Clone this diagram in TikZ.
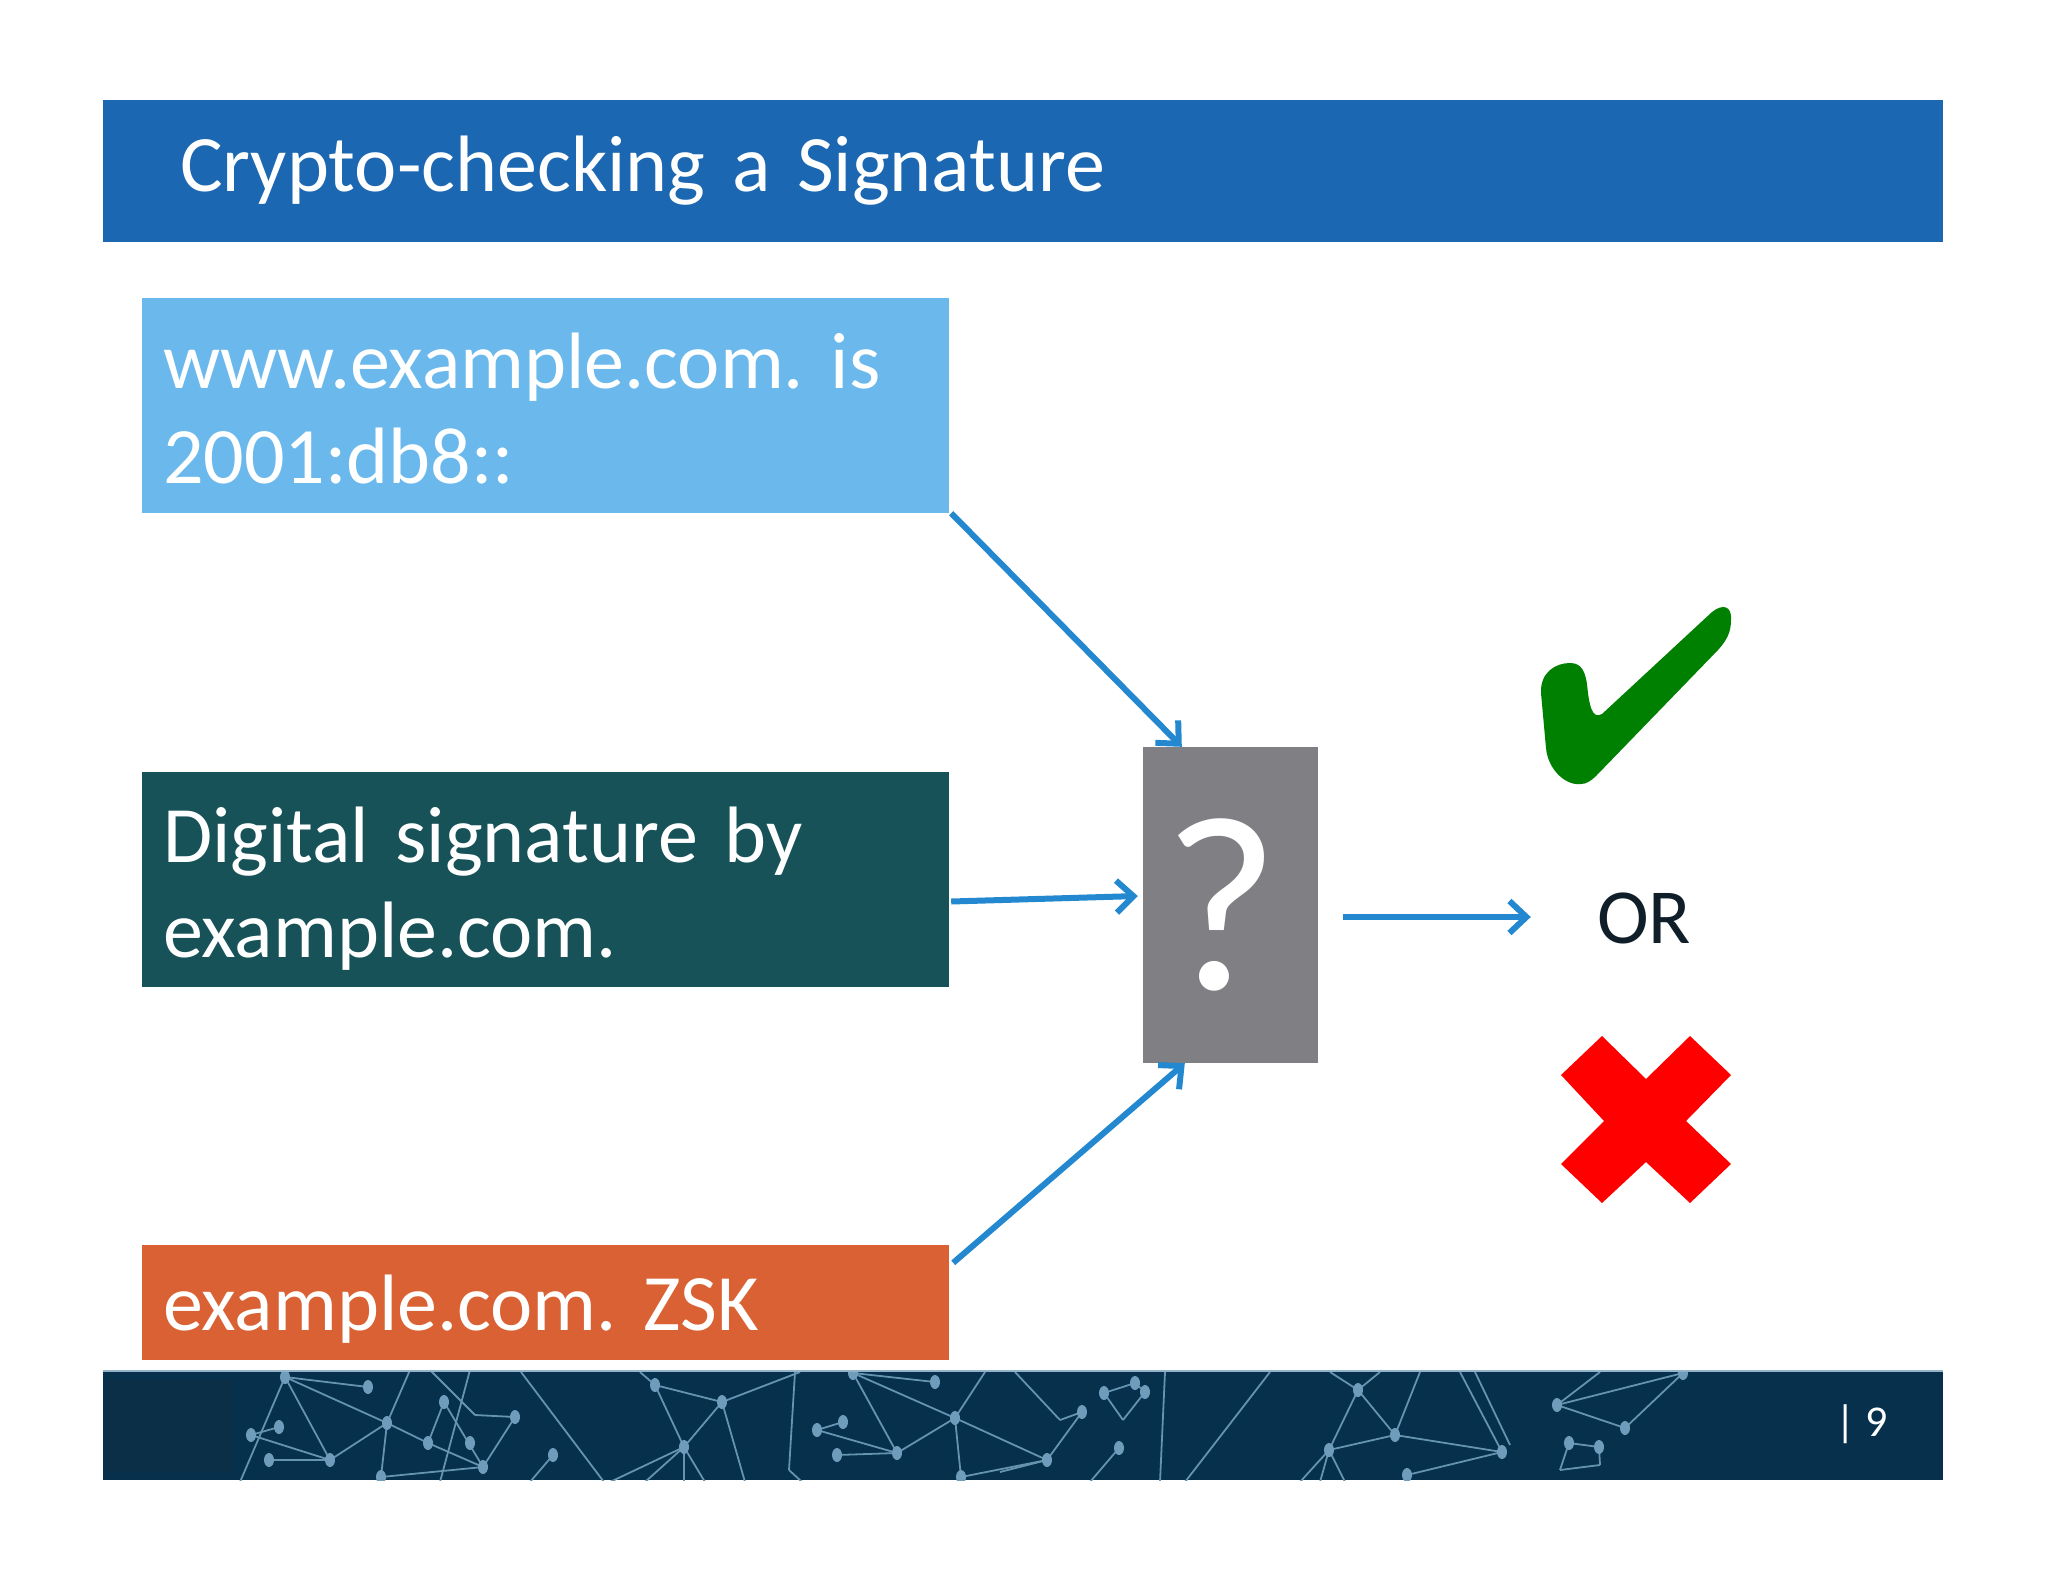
\documentclass[tikz,border=0pt]{standalone}
\usepackage{fontspec}
\setmainfont{Carlito}
\usetikzlibrary{arrows.meta}
\definecolor{titleblue}{HTML}{1B67B2}
\definecolor{lightbox}{HTML}{6BB9EC}
\definecolor{tealbox}{HTML}{175258}
\definecolor{orangebox}{HTML}{DA6133}
\definecolor{checkgray}{HTML}{807F83}
\definecolor{arrowblue}{HTML}{2388CF}
\definecolor{okgreen}{HTML}{008000}
\definecolor{badred}{HTML}{FF0000}
\definecolor{footblue}{HTML}{06304B}
\definecolor{footdark}{HTML}{0B2F47}
\definecolor{netline}{HTML}{6593B0}
\definecolor{netdot}{HTML}{6E9CBA}
\definecolor{ortext}{HTML}{0F1E28}
\frenchspacing
\begin{document}
\begin{tikzpicture}[x=1pt,y=-1pt,
titlebar/.style={fill=titleblue,minimum width=1840pt,minimum height=142pt,text width=1686pt,inner xsep=77pt,inner ysep=0pt,align=left,text=white,font=\fontsize{80}{95}\selectfont},
box/.style={minimum width=807pt,text width=765pt,inner xsep=21pt,inner ysep=0pt,align=left,text=white,text height=56pt,font=\fontsize{80}{95}\selectfont},
twoline/.style={box,minimum height=215pt,text depth=91pt},
oneline/.style={box,minimum height=115pt,text depth=1pt},
checker/.style={fill=checkgray,minimum width=175pt,minimum height=316pt,inner sep=0pt,text=white,font=\fontsize{250}{250}\selectfont},
conn/.style={draw=arrowblue,line width=6pt,-{Straight Barb[length=17pt,width=32pt,line width=6pt]}},
footer/.style={fill=footblue,minimum width=1840pt,minimum height=109pt,inner sep=0pt},
net/.style={draw=netline,line width=1.8pt},
pagenum/.style={text=white,inner sep=0pt,font=\fontsize{44}{44}\selectfont}
]
\fill[white] (0,0) rectangle (2048,1582);
\useasboundingbox (0,0) rectangle (2048,1582);
\node[titlebar] (title) at (1023,171) {Crypto-checking a Signature};
\node[twoline,fill=lightbox] (rec) at (545.5,405.5) {www.example.com. is\\2001:db8::};
\node[twoline,fill=tealbox] (sig) at (545.5,879.5) {Digital signature by\\example.com.};
\node[oneline,fill=orangebox] (zsk) at (545.5,1302.5) {example.com. ZSK};
\node[checker] (q) at (1230.5,905) {\kern-18pt?};
\node[text=ortext,inner sep=0pt,font=\fontsize{78}{78}\selectfont] (or) at (1644,918) {OR};
\draw[conn] ([xshift=2pt]rec.south east) -- ([xshift=39pt]q.north west);
\draw[conn] ([xshift=2pt,yshift=-22pt]sig.east) -- ([xshift=-5pt,yshift=9pt]q.west);
\draw[conn] ([xshift=4pt,yshift=-18pt]zsk.north east) -- ([xshift=42pt]q.south west);
\draw[conn] ([xshift=25pt,yshift=-12pt]q.east) -- ([xshift=-66pt,yshift=1pt]or.west);
\fill[okgreen] (1581,784) .. controls (1566,786) and (1548,770) .. (1546,748)
  -- (1541,693) .. controls (1540,672) and (1556,663) .. (1570,663)
  .. controls (1582,663) and (1585,672) .. (1587,684)
  .. controls (1589,705) and (1592,720) .. (1602,714)
  -- (1712,612) .. controls (1722,604) and (1732,605) .. (1731,620)
  .. controls (1731,632) and (1727,640) .. (1718,650)
  -- (1596,776) .. controls (1591,781) and (1586,784) .. cycle;
\fill[badred] (1561,1075) -- (1602,1036) -- (1646,1079) -- (1690,1036) -- (1731,1075)
  -- (1686,1121) -- (1731,1164) -- (1690,1203) -- (1646,1162) -- (1602,1203)
  -- (1561,1164) -- (1604,1121) -- cycle;
\node[footer] (foot) at (1023,1425.5) {};
\begin{scope}
\clip (foot.south west) rectangle (foot.north east);
\fill[footdark] (107,1380) rectangle (232,1472);
\foreach \xa/\ya/\xb/\yb in {285/1377/368/1387,285/1377/387/1423,285/1377/240/1482,285/1377/330/1460,
  251/1435/279/1427,251/1435/330/1460,269/1460/330/1460,330/1460/387/1423,387/1423/428/1443,
  428/1443/483/1467,387/1423/381/1477,444/1402/428/1443,444/1402/483/1467,381/1477/483/1467,
  483/1467/515/1417,515/1417/475/1415,475/1415/430/1370,410/1370/387/1423,470/1370/440/1482,
  521/1372/604/1482,553/1455/530/1482,655/1385/722/1402,655/1385/684/1447,722/1402/684/1447,
  684/1447/610/1482,684/1447/645/1482,684/1447/684/1482,684/1447/705/1482,722/1402/745/1482,
  722/1402/800/1372,655/1385/640/1372,795/1372/789/1470,789/1470/802/1482,853/1373/935/1382,
  853/1373/955/1418,853/1373/897/1453,843/1422/817/1430,817/1430/897/1453,837/1455/897/1453,
  955/1418/897/1453,955/1418/1047/1460,955/1418/961/1477,961/1477/1047/1460,955/1418/985/1372,
  1047/1460/1082/1412,1082/1412/1060/1420,1060/1420/1015/1372,1047/1460/1000/1472,
  1104/1393/1135/1383,1135/1383/1145/1392,1145/1392/1123/1420,1123/1420/1104/1393,
  1119/1448/1090/1482,1165/1372/1160/1482,1270/1372/1185/1482,1330/1372/1358/1390,
  1380/1372/1358/1390,1358/1390/1329/1450,1358/1390/1395/1435,1395/1435/1329/1450,
  1395/1435/1502/1452,1420/1372/1395/1435,1329/1450/1300/1482,1329/1450/1320/1482,
  1329/1450/1345/1482,1407/1475/1502/1452,1460/1372/1502/1452,1475/1372/1510/1445,
  1557/1405/1683/1373,1557/1405/1625/1428,1625/1428/1683/1373,1557/1405/1600/1372,
  1569/1443/1599/1447,1599/1447/1600/1465,1600/1465/1560/1470,1560/1470/1569/1443}
  \draw[net] (\xa,\ya) -- (\xb,\yb);
\foreach \x/\y in {285/1377,368/1387,444/1402,515/1417,387/1423,279/1427,251/1435,428/1443,
  470/1443,269/1460,330/1460,483/1467,381/1477,553/1455,655/1385,722/1402,684/1447,853/1373,
  935/1382,843/1422,817/1430,837/1455,955/1418,897/1453,1047/1460,1082/1412,961/1477,
  1135/1383,1104/1393,1145/1392,1119/1448,1358/1390,1395/1435,1329/1450,1502/1452,1407/1475,
  1557/1405,1625/1428,1683/1373,1569/1443,1599/1447}
  \fill[netdot] (\x,\y) ellipse (5 and 7);
\end{scope}
\draw[draw=netline!70,line width=2pt] (foot.north west) -- (foot.north east);
\node[pagenum] (page) at (1862,1424) {|~9};
\end{tikzpicture}
\end{document}
